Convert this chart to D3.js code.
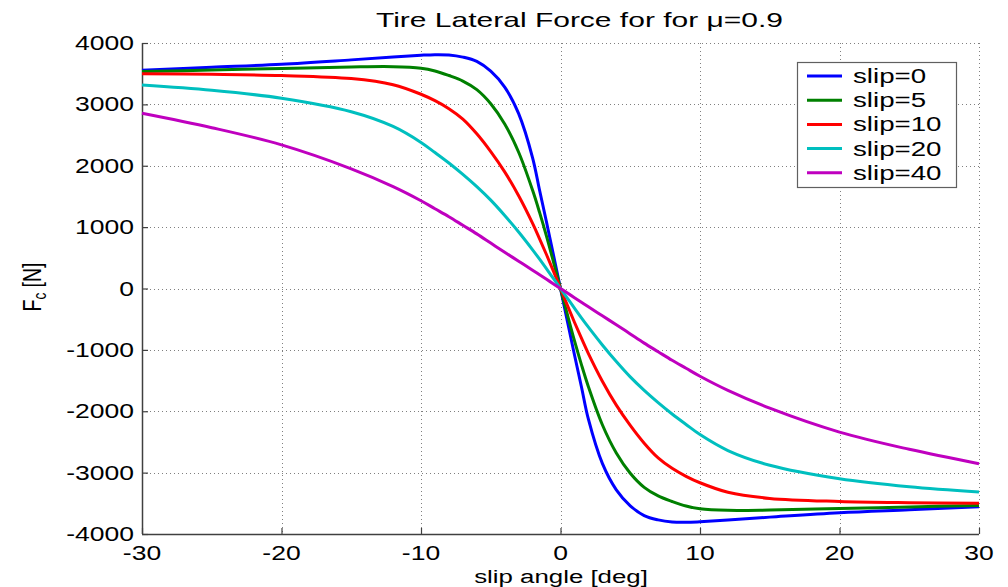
<!DOCTYPE html>
<html>
<head>
<meta charset="utf-8">
<script src="https://cdn.jsdelivr.net/npm/d3@7"></script>
<style>
  html, body { margin: 0; padding: 0; background: #fff; }
  svg { display: block; }
  text { font-family: "Liberation Sans", Arial, Helvetica, sans-serif; fill: #000; }
</style>
</head>
<body>
<svg id="chart" width="1008" height="587"></svg>
<script>
// ---------- data ----------
const slipAngle = [-30,-25,-20,-15,-12,-10,-9,-8,-7,-6,-5,-4,-3,-2,-1.5,-1,-0.5,0,0.5,1,1.5,2,3,4,5,6,7,8,9,10,12,15,20,25,30];

const slip0  = [3556,3605,3654,3725,3770,3800,3810,3805,3770,3700,3540,3280,2850,2130,1600,1080,540,0,-540,-1080,-1600,-2130,-2850,-3280,-3540,-3700,-3770,-3805,-3810,-3800,-3770,-3725,-3654,-3605,-3556];
const slip5  = [3535,3560,3584,3610,3615,3590,3545,3470,3380,3240,3010,2680,2220,1600,1240,850,430,0,-430,-850,-1240,-1600,-2220,-2680,-3010,-3240,-3380,-3470,-3545,-3590,-3615,-3610,-3584,-3560,-3535];
const slip10 = [3500,3490,3470,3420,3320,3165,3060,2930,2760,2520,2230,1900,1510,1060,810,550,278,0,-278,-550,-810,-1060,-1510,-1900,-2230,-2520,-2760,-2930,-3060,-3165,-3320,-3420,-3470,-3490,-3500];
const slip20 = [3315,3230,3100,2880,2640,2380,2215,2045,1860,1660,1440,1190,920,630,478,320,160,0,-160,-320,-478,-630,-920,-1190,-1440,-1660,-1860,-2045,-2215,-2380,-2640,-2880,-3100,-3230,-3315];
const slip40 = [2855,2620,2340,1950,1660,1430,1300,1170,1030,890,740,590,445,298,224,149,75,0,-75,-149,-224,-298,-445,-590,-740,-890,-1030,-1170,-1300,-1430,-1660,-1950,-2340,-2620,-2855];

const seriesNames  = ["slip=0","slip=5","slip=10","slip=20","slip=40"];
const seriesValues = [slip0, slip5, slip10, slip20, slip40];
const seriesColors = ["#0000ff","#008000","#ff0000","#00bfbf","#bf00bf"];

const xTicks = [-30,-20,-10,0,10,20,30];
const yTicks = [-4000,-3000,-2000,-1000,0,1000,2000,3000,4000];

const titleText = "Tire Lateral Force for for \u03bc=0.9";
const xLabelText = "slip angle [deg]";

// ---------- layout ----------
const pLeft = 142, pRight = 979, pTop = 43, pBottom = 534;
const SX = 1.36;          // horizontal stretch of the original raster text
const FS = 19.5;

const svg = d3.select("#chart");
svg.append("rect").attr("width",1008).attr("height",587).attr("fill","#fff");

const x = d3.scaleLinear().domain([-30,30]).range([pLeft,pRight]);
const y = d3.scaleLinear().domain([-4000,4000]).range([pBottom,pTop]);

function sText(g, px, py, str, anchor, size, sx) {
  return g.append("text")
    .attr("transform", `translate(${px},${py}) scale(${sx||SX},1)`)
    .attr("text-anchor", anchor || "start")
    .attr("font-size", size || FS)
    .text(str);
}

// grid
const grid = svg.append("g").attr("stroke","#808080").attr("stroke-width",1)
  .attr("stroke-dasharray","1,3");
grid.selectAll(".gx").data(xTicks.filter(d => d !== -30)).join("line")
  .attr("x1", d => Math.round(x(d)) + 0.5).attr("x2", d => Math.round(x(d)) + 0.5)
  .attr("y1", pTop).attr("y2", pBottom);
grid.selectAll(".gy").data(yTicks.filter(d => d !== -4000)).join("line")
  .attr("y1", d => Math.round(y(d)) + 0.5).attr("y2", d => Math.round(y(d)) + 0.5)
  .attr("x1", pLeft).attr("x2", pRight);

// axes (ticks inside, labels drawn separately)
const axisColor = "#404040";
const gx = svg.append("g").attr("transform",`translate(0,${pBottom})`)
  .call(d3.axisBottom(x).tickValues(xTicks).tickSize(-6).tickFormat(""));
const gy = svg.append("g").attr("transform",`translate(${pLeft},0)`)
  .call(d3.axisLeft(y).tickValues(yTicks).tickSize(-6).tickFormat(""));
[gx, gy].forEach(g => {
  g.select(".domain").attr("stroke", axisColor).attr("stroke-width", 1.5);
  g.selectAll(".tick line").attr("stroke", axisColor).attr("stroke-width", 1.2);
});
gx.select(".domain").attr("d", `M${pLeft},0.5H${pRight}`);
gy.select(".domain").attr("d", `M0.5,${pBottom}V${pTop}`);

// tick labels
const labels = svg.append("g");
xTicks.forEach(t => sText(labels, x(t), 559.5, String(t), "middle"));
yTicks.forEach(t => sText(labels, 134, y(t) + 7, String(t), "end"));

// lines
const line = d3.line()
  .x((d, i) => x(slipAngle[i]))
  .y(d => y(d))
  .curve(d3.curveCatmullRom.alpha(0.5));

const plot = svg.append("g");
seriesValues.forEach((vals, k) => {
  plot.append("path")
    .datum(vals)
    .attr("fill","none")
    .attr("stroke", seriesColors[k])
    .attr("stroke-width", 3)
    .attr("stroke-linejoin","round")
    .attr("d", line);
});

// title
sText(svg, 376, 27, titleText, "start", 20, 1.5);

// x label
sText(svg, 561, 582.5, xLabelText, "middle", 19);

// y label: F_c [N]
const yl = svg.append("text")
  .attr("transform", `translate(41,287) rotate(-90) scale(1,${SX})`)
  .attr("text-anchor","middle")
  .attr("font-size", FS);
yl.append("tspan").text("F");
yl.append("tspan").attr("font-size", FS*0.7).attr("dy", 4).text("c");
yl.append("tspan").attr("dy", -4).text(" [N]");

// legend
const lg = svg.append("g");
const lgX = 797, lgY = 62, lgW = 159, lgH = 125;
lg.append("rect").attr("x", lgX + 0.5).attr("y", lgY + 0.5).attr("width", lgW).attr("height", lgH)
  .attr("fill","#fff").attr("stroke","#606060").attr("stroke-width",1.2);
seriesNames.forEach((name, k) => {
  const cy = 76 + k * 24.2;
  lg.append("line").attr("x1", 807).attr("x2", 842).attr("y1", cy).attr("y2", cy)
    .attr("stroke", seriesColors[k]).attr("stroke-width", 3);
  sText(lg, 853, cy + 7, name, "start", FS, 1.42);
});
</script>
</body>
</html>
